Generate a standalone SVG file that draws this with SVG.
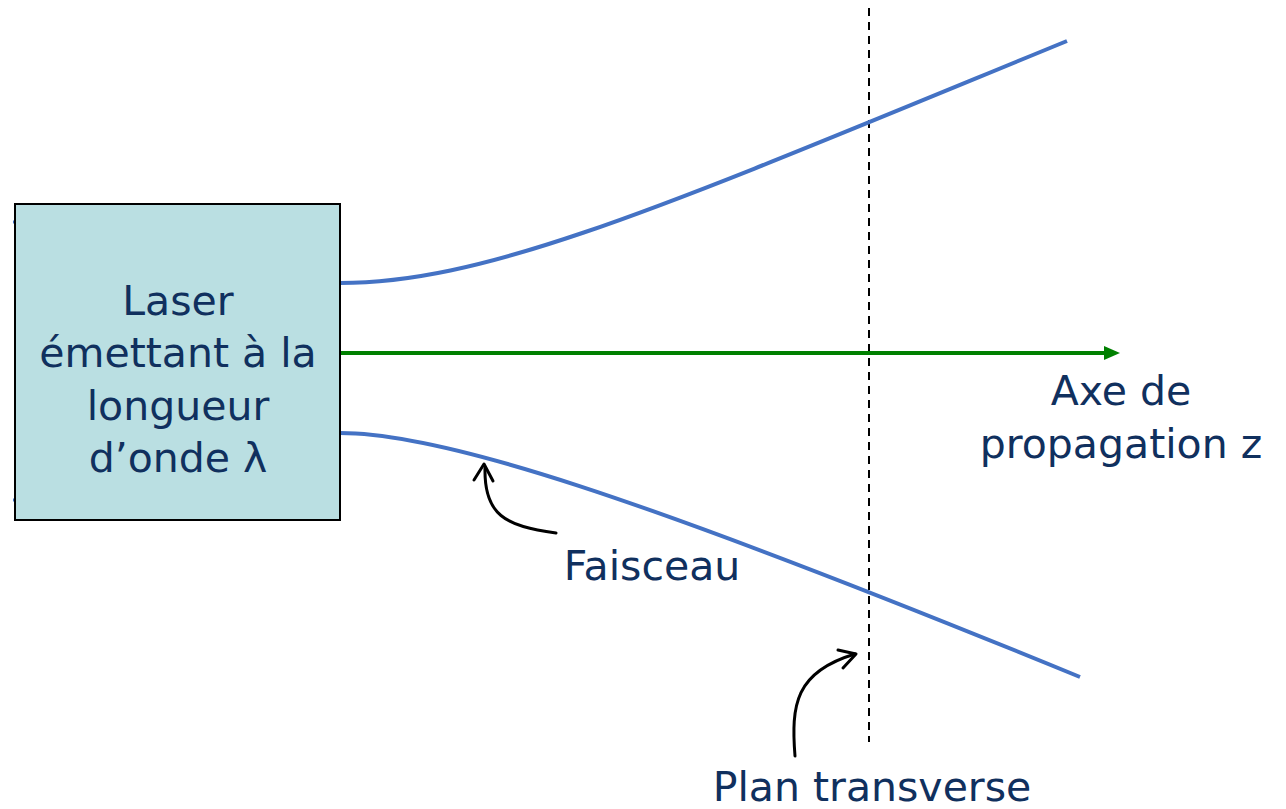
<svg xmlns="http://www.w3.org/2000/svg" width="1286" height="809" viewBox="0 0 1286 809">
<style>
.lbl{font-family:"DejaVu Sans","Liberation Sans",sans-serif;font-size:41px;fill:#10305E;text-anchor:middle}
.beam{fill:none;stroke:#4472C4;stroke-width:4;stroke-linecap:butt}
.call{fill:none;stroke:#000;stroke-width:3;stroke-linecap:round;stroke-linejoin:round}
</style>
<rect width="1286" height="809" fill="#fff"/>
<g id="connectors">
<line x1="869" y1="8" x2="869" y2="742" stroke="#000" stroke-width="2" stroke-dasharray="8,6"/>
<path class="beam" d="M340,283 C490,283 667,205 1067,41"/>
<path class="beam" d="M340,433 C440,433 630,492.5 1080,677"/>
<line x1="13" y1="222" x2="16" y2="222" stroke="#4472C4" stroke-width="3"/>
<line x1="13" y1="500" x2="16" y2="500" stroke="#4472C4" stroke-width="3"/>
<line x1="340" y1="353" x2="1106" y2="353" stroke="#008000" stroke-width="4"/>
<path d="M1104,346 L1120,353 L1104,360 Z" fill="#008000"/>
<path class="call" d="M556,533 C505,526 484,515 485,468"/>
<path class="call" d="M474,480 L484,464 L493,481"/>
<path class="call" d="M795,756 C791,705 795,672 855,654"/>
<path class="call" d="M838,650 L856,654 L843,668"/>
</g>
<g id="laser">
<rect x="15" y="204" width="325" height="316" fill="#BADFE2" stroke="#000" stroke-width="2"/>
<text class="lbl" x="178" y="315">Laser</text>
<text class="lbl" x="178" y="367">émettant à la</text>
<text class="lbl" x="178" y="420">longueur</text>
<text class="lbl" x="178" y="472">d’onde λ</text>
</g>
<g id="axe-label">
<text class="lbl" x="1121" y="405">Axe de</text>
<text class="lbl" x="1121" y="458">propagation z</text>
</g>
<g id="faisceau-label">
<text class="lbl" x="652" y="580">Faisceau</text>
</g>
<g id="plan-label">
<text class="lbl" x="872" y="801">Plan transverse</text>
</g>
</svg>
